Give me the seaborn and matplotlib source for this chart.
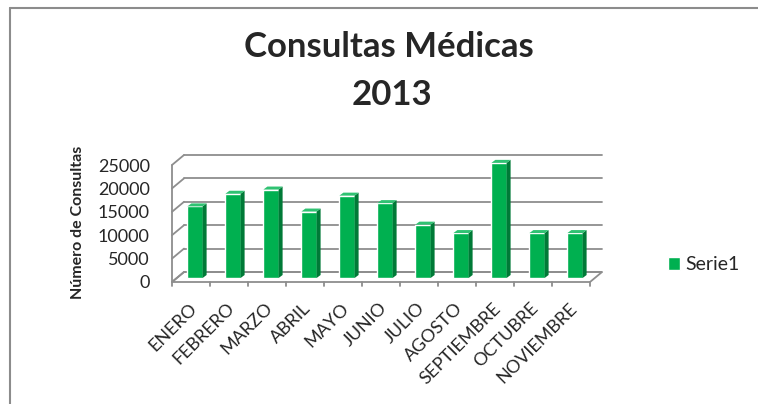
import matplotlib
matplotlib.use("Agg")
import matplotlib.pyplot as plt
import seaborn as sns
from matplotlib.lines import Line2D
from matplotlib.patches import Patch, Polygon
from matplotlib.transforms import ScaledTranslation, offset_copy

# data
meses = ["ENERO", "FEBRERO", "MARZO", "ABRIL", "MAYO", "JUNIO", "JULIO",
         "AGOSTO", "SEPTIEMBRE", "OCTUBRE", "NOVIEMBRE"]
consultas = [15300, 18000, 18900, 14200, 17600, 16000, 11400, 9600, 24600, 9600, 9600]
y_ticks = [0, 5000, 10000, 15000, 20000, 25000]
serie = "Serie1"
titulo = ["Consultas Médicas", "2013"]
y_label = "Número de Consultas"

GREEN = "#00B050"
GREEN_SIDE = "#007A37"
GREEN_TOP = "#2FC272"
GRID = "#8E8E8E"

W, H = 758, 404
# plot area (front plane), in pixels
PX_LEFT, PX_RIGHT, PX_BOTTOM, PX_TOP = 172, 590, 282, 165
WALL_DX, WALL_DY = 12, 10   # depth of the floor / back wall
BAR_DX, BAR_DY = 4, 3       # depth of each column
BAR_OFF = 4                 # columns sit a bit behind the front edge


def main() -> None:
    sns.set_theme(style="white")
    plt.rcParams["font.family"] = ["Lato", "DejaVu Sans"]

    fig = plt.figure(figsize=(W / 100, H / 100), dpi=100)
    ax = fig.add_axes([
        PX_LEFT / W,
        (H - PX_BOTTOM) / H,
        (PX_RIGHT - PX_LEFT) / W,
        (PX_BOTTOM - PX_TOP) / H,
    ])
    n = len(meses)
    ymax = y_ticks[-1]
    sx = n / (PX_RIGHT - PX_LEFT)       # data units per pixel (x)
    sy = ymax / (PX_BOTTOM - PX_TOP)    # data units per pixel (y)

    sns.barplot(x=meses, y=consultas, color=GREEN, saturation=1, width=0.4,
                ax=ax, zorder=4)
    ax.set_xlim(-0.5, n - 0.5)
    ax.set_ylim(0, ymax)
    for s in ax.spines.values():
        s.set_visible(False)
    ax.patch.set_alpha(0)

    back = offset_copy(ax.transData, fig=fig, x=WALL_DX, y=WALL_DY, units="dots")
    bar_tr = offset_copy(ax.transData, fig=fig, x=BAR_OFF, y=BAR_OFF, units="dots")

    # floor
    ax.add_patch(Polygon(
        [(-0.5, 0), (n - 0.5, 0), (n - 0.5 + WALL_DX * sx, WALL_DY * sy),
         (-0.5 + WALL_DX * sx, WALL_DY * sy)],
        closed=True, facecolor="white", edgecolor=GRID, lw=1.3,
        clip_on=False, zorder=1))

    # back wall gridlines + left wall
    for v in y_ticks:
        ax.plot([-0.5, n - 0.5], [v, v], color=GRID, lw=1.3,
                transform=back, clip_on=False, zorder=2)
        ax.plot([-0.5, -0.5 + WALL_DX * sx], [v, v + WALL_DY * sy], color=GRID,
                lw=1.3, clip_on=False, zorder=2)
    ax.plot([-0.5, -0.5], [0, ymax], color=GRID, lw=1.3, clip_on=False, zorder=2)

    # category tick marks on the floor edge
    for i in range(n + 1):
        ax.plot([i - 0.5, i - 0.5], [0, -4 * sy], color=GRID, lw=1.3,
                clip_on=False, zorder=2)

    # 3d faces of the columns
    for p in ax.patches:
        if not hasattr(p, "get_width") or p.get_width() > 1:
            continue
        p.set_transform(bar_tr)
        p.set_clip_on(False)
        x0, w, h = p.get_x(), p.get_width(), p.get_height()
        x1 = x0 + w
        dx, dy = BAR_DX * sx, BAR_DY * sy
        ax.add_patch(Polygon([(x1, 0), (x1, h), (x1 + dx, h + dy), (x1 + dx, dy)],
                             closed=True, facecolor=GREEN_SIDE, lw=0,
                             transform=bar_tr, clip_on=False, zorder=4))
        ax.add_patch(Polygon([(x0, h), (x1, h), (x1 + dx, h + dy), (x0 + dx, h + dy)],
                             closed=True, facecolor=GREEN_TOP, lw=0,
                             transform=bar_tr, clip_on=False, zorder=4))

    ax.set_yticks(y_ticks)
    ax.set_yticklabels([str(v) for v in y_ticks], fontsize=13)
    ax.tick_params(axis="y", length=0, pad=16)
    ax.set_xticks(range(n))
    ax.set_xticklabels(meses, fontsize=13, rotation=45, ha="right", va="center",
                       rotation_mode="anchor")
    ax.tick_params(axis="x", length=0, pad=17)
    shift = ScaledTranslation(3 / 100, 0, fig.dpi_scale_trans)
    for lbl in ax.get_xticklabels():
        lbl.set_transform(lbl.get_transform() + shift)
    ax.set_xlabel("")
    ax.set_ylabel("")

    fig.text(78 / W, 1 - 222 / H, y_label, rotation=90, fontsize=11.5,
             fontweight="bold", ha="center", va="center")
    fig.text(389 / W, 1 - 57 / H, titulo[0], fontsize=25, fontweight="bold",
             ha="center", va="baseline")
    fig.text(392 / W, 1 - 105 / H, titulo[1], fontsize=25, fontweight="bold",
             ha="center", va="baseline")

    fig.legend(handles=[Patch(facecolor=GREEN, label=serie)], loc="center left",
               bbox_to_anchor=(668 / W, 1 - 265 / H), frameon=False, fontsize=14,
               handlelength=0.6, handleheight=0.6, handletextpad=0.3,
               borderaxespad=0, borderpad=0)

    # chart border (top and left edges visible)
    fig.add_artist(Line2D([10 / W, 1], [1 - 8 / H, 1 - 8 / H], color="#8C8C8C",
                          lw=1.5, transform=fig.transFigure))
    fig.add_artist(Line2D([10 / W, 10 / W], [1 - 8 / H, 0], color="#8C8C8C",
                          lw=1.5, transform=fig.transFigure))

    fig.savefig("out.png", dpi=100)
    plt.close(fig)


if __name__ == "__main__":
    main()
